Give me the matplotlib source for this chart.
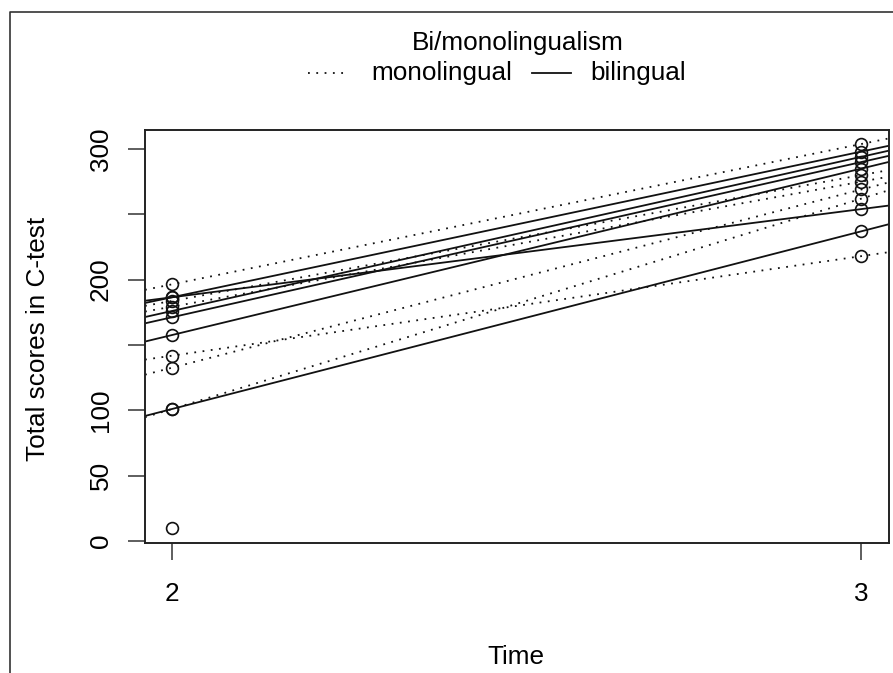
import numpy as np
import matplotlib
matplotlib.use('Agg')
import matplotlib.pyplot as plt
from matplotlib.lines import Line2D

plt.rcParams['font.family'] = ['Liberation Sans', 'DejaVu Sans']

# scores at time 2 and time 3, one pair per pupil
bi_t2 = [186.5, 186.5, 176.0, 171.2, 157.6, 101.0]
bi_t3 = [298.0, 254.0, 294.0, 290.0, 285.0, 237.0]
mono_t2 = [196.4, 183.7, 179.3, 141.8, 132.6, 101.0]
mono_t3 = [303.8, 280.0, 275.0, 218.0, 269.0, 262.0]
# pupil seen only at time 2
single_t2 = [10.2]

yticks = [0, 50, 100, 150, 200, 250, 300]
ylabels = ['0', '50', '100', '', '200', '', '300']

W, H = 893, 673
fig = plt.figure(figsize=(W / 100, H / 100), dpi=100)
ax = fig.add_axes([145 / W, 1 - 543 / H, 744 / W, 413 / H])

dot = (0, (1, 3.6))
fs = 18.8

for a, b in zip(bi_t2, bi_t3):
    ax.axline((2, a), (3, b), color='#111111', lw=1.3, ls='-')
for a, b in zip(mono_t2, mono_t3):
    ax.axline((2, a), (3, b), color='#111111', lw=1.3, ls=dot)

t2 = bi_t2 + mono_t2 + single_t2
t3 = bi_t3 + mono_t3
ax.plot([2] * len(t2), t2, 'o', mfc='none', mec='#111111', ms=8.5, mew=1.2)
ax.plot([3] * len(t3), t3, 'o', mfc='none', mec='#111111', ms=8.5, mew=1.2)

ax.set_xlim(1.961, 3.04)
ax.set_ylim(-1.5, 314.5)
ax.set_xticks([2, 3])
ax.set_xticklabels(['2', '3'], fontsize=fs)
ax.set_yticks(yticks)
ax.set_yticklabels(ylabels, fontsize=fs, rotation=90, va='center')
ax.tick_params(axis='both', direction='out', length=12, width=1.1, color='#333333')
ax.tick_params(axis='x', pad=16)
ax.tick_params(axis='y', pad=11)
for s in ax.spines.values():
    s.set_linewidth(1.4)
    s.set_color('#222222')

fig.text(516 / W, 1 - 657 / H, 'Time', fontsize=fs, ha='center', va='center')
fig.text(38 / W, 1 - 339 / H, 'Total scores in C-test', fontsize=fs,
         rotation=90, ha='center', va='center')

# legend (R style, no box)
fig.text(518 / W, 1 - 43 / H, 'Bi/monolingualism', fontsize=fs, ha='center', va='center')
ly = 1 - 73 / H
fig.add_artist(Line2D([308 / W, 348 / W], [ly, ly], color='#111111', lw=1.3, ls=dot))
fig.text(371 / W, ly, 'monolingual', fontsize=fs, ha='left', va='center')
fig.add_artist(Line2D([532 / W, 571 / W], [ly, ly], color='#111111', lw=1.3))
fig.text(590 / W, ly, 'bilingual', fontsize=fs, ha='left', va='center')

# outer frame of the original picture
fig.add_artist(Line2D([10 / W, 10 / W, 1], [0, 1 - 12 / H, 1 - 12 / H],
                      color='#333333', lw=1.2))

fig.savefig('out.png', dpi=100)
